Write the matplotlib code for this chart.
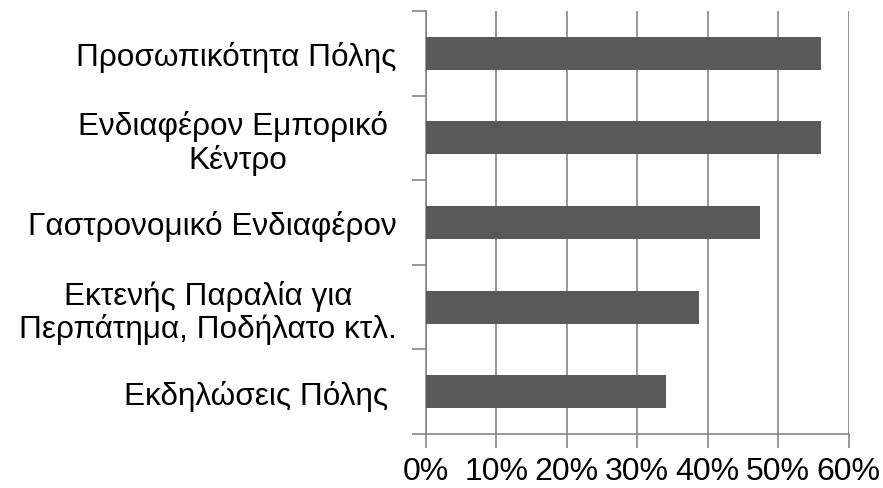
import matplotlib.pyplot as plt
from matplotlib.ticker import FuncFormatter

# categories listed bottom to top
categories = ['Εκδηλώσεις Πόλης ',
              'Εκτενής Παραλία για\nΠερπάτημα, Ποδήλατο κτλ.',
              'Γαστρονομικό Ενδιαφέρον',
              'Ενδιαφέρον Εμπορικό \nΚέντρο',
              'Προσωπικότητα Πόλης']
values = [0.341, 0.388, 0.474, 0.561, 0.561]
x_ticks = [0, 0.1, 0.2, 0.3, 0.4, 0.5, 0.6]

plt.rcParams['font.family'] = ['Liberation Sans', 'DejaVu Sans']

fig = plt.figure(figsize=(8.83, 4.89), dpi=100)
ax = fig.add_axes([426 / 883, 1 - 435 / 489, (848.5 - 426) / 883, (435 - 12) / 489])

grid_color = '#868686'

ax.barh(range(len(categories)), values, height=0.39, color='#595959', zorder=3)

ax.set_xlim(0, 0.6)
ax.set_ylim(-0.5, len(categories) - 0.5)
ax.set_xticks(x_ticks)
ax.xaxis.set_major_formatter(FuncFormatter(lambda v, p: '{:.0f}%'.format(v * 100)))
ax.grid(axis='x', color=grid_color, linewidth=1.2, zorder=0)

# labels at bar centres, tick marks at category boundaries
ax.set_yticks(range(len(categories)))
ax.set_yticklabels(categories, multialignment='center', linespacing=1.1)
ax.set_yticks([i - 0.5 for i in range(len(categories) + 1)], minor=True)
ax.tick_params(axis='y', which='major', length=0, pad=21, labelsize=22.7)
ax.tick_params(axis='y', which='minor', length=10, width=1.2, color=grid_color)
ax.tick_params(axis='x', length=10, width=1.2, color=grid_color, pad=6, labelsize=23)

for side in ['top', 'right']:
    ax.spines[side].set_visible(False)
for side in ['left', 'bottom']:
    ax.spines[side].set_color(grid_color)
    ax.spines[side].set_linewidth(1.2)

fig.savefig('out.png', dpi=100)
